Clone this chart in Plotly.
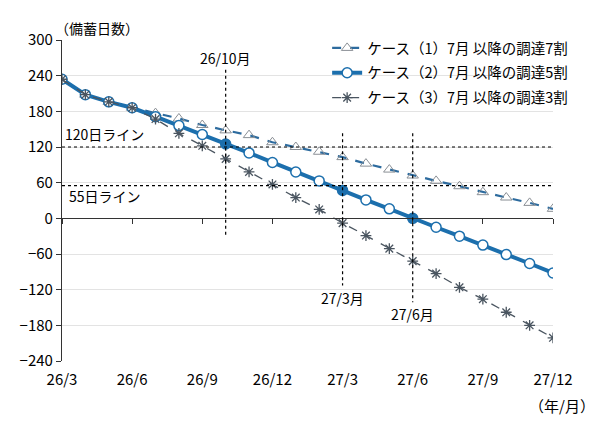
import plotly.graph_objects as go

months = ["26/3", "26/4", "26/5", "26/6", "26/7", "26/8", "26/9", "26/10", "26/11", "26/12",
          "27/1", "27/2", "27/3", "27/4", "27/5", "27/6", "27/7", "27/8", "27/9", "27/10", "27/11", "27/12"]
case1 = [234, 208, 196, 186, 177, 168, 157, 148, 140, 128, 120, 112, 103, 92, 82, 72, 63, 54, 44, 35, 26, 16]
case2 = [234, 208, 196, 186, 171, 156, 141, 125, 110, 94, 78, 63, 47, 31, 16, 0, -15, -30, -45, -61, -76, -92]
case3 = [234, 208, 196, 186, 167, 143, 122, 100, 78, 57, 35, 15, -8, -29, -51, -72, -93, -116, -136, -158, -180, -201]
names = ["ケース（1）7月 以降の調達7割", "ケース（2）7月 以降の調達5割", "ケース（3）7月 以降の調達3割"]
tick_months = ["26/3", "26/6", "26/9", "26/12", "27/3", "27/6", "27/9", "27/12"]
y_ticks = [300, 240, 180, 120, 60, 0, -60, -120, -180, -240]
key_months = ["26/10", "27/3", "27/6"]   # filled markers on case 2
ref_lines = [120, 55]
ref_labels = ["120日ライン", "55日ライン"]

JP = "Noto Sans CJK JP"
blue = "#1c6fad"

fig = go.Figure()
fig.add_trace(go.Scatter(x=months, y=case1, name=names[0], mode="lines+markers", legendgroup="c1",
                         line=dict(color="#2d6b9e", width=2.2, dash="dash"),
                         marker=dict(symbol="triangle-up-open", size=10, color="#8a8f95", line=dict(width=1))))
fig.add_trace(go.Scatter(x=months, y=case2, name=names[1], mode="lines+markers", legendgroup="c2",
                         line=dict(color=blue, width=4),
                         marker=dict(symbol="circle", size=10,
                                     color=[blue if m in key_months else "white" for m in months],
                                     line=dict(color=blue, width=1.5))))
fig.add_trace(go.Scatter(x=months, y=case3, name=names[2], mode="lines+markers", legendgroup="c3",
                         line=dict(color="#4a5560", width=1.3, dash="dash"),
                         marker=dict(symbol="asterisk-open", size=9, line=dict(color="#5683ad", width=1.3))))
# dummy trace on the tick axis sitting on y=0
fig.add_trace(go.Scatter(x=months, y=[None] * len(months), xaxis="x2", showlegend=False, hoverinfo="skip"))

for v in ref_lines:
    fig.add_shape(type="line", xref="x", yref="y", x0=months[0], x1=months[-1], y0=v, y1=v,
                  line=dict(color="black", width=1.2, dash="dot"))
fig.add_annotation(x=0.05, y=120, xref="x", yref="y", text=ref_labels[0], showarrow=False,
                   xanchor="left", yanchor="bottom", yshift=1, font=dict(size=14, family=JP, color="black"))
fig.add_annotation(x=0.2, y=55, xref="x", yref="y", text=ref_labels[1], showarrow=False,
                   xanchor="left", yanchor="top", yshift=2, font=dict(size=14, family=JP, color="black"))

# vertical markers (month, top, bottom, label position)
vlines = [("26/10", 250, -32, 250, "bottom"), ("27/3", 143, -113, -113, "top"), ("27/6", 143, -141, -141, "top")]
for m, y0, y1, ly, anch in vlines:
    fig.add_shape(type="line", xref="x", yref="y", x0=m, x1=m, y0=y0, y1=y1,
                  line=dict(color="black", width=1.2, dash="dot"))
    fig.add_annotation(x=m, y=ly, xref="x", yref="y", text=m + "月", showarrow=False,
                       yanchor=anch, font=dict(size=14, family=JP, color="black"))

fig.add_annotation(x=0, y=1, xref="paper", yref="paper", text="（備蓄日数）", showarrow=False,
                   xanchor="left", yanchor="middle", xshift=-9, yshift=12,
                   font=dict(size=14, family=JP, color="black"))
fig.add_annotation(x=1, y=0, xref="paper", yref="paper", text="（年/月）", showarrow=False,
                   xanchor="right", yanchor="middle", xshift=44, yshift=-44,
                   font=dict(size=15, family=JP, color="black"))

fig.update_layout(
    width=600, height=423,
    margin=dict(l=54, r=55, t=32, b=70),
    paper_bgcolor="white", plot_bgcolor="white",
    font=dict(family=JP, size=15, color="black"),
    showlegend=True,
    legend=dict(x=0.54, y=1.025, xanchor="left", yanchor="top", bgcolor="rgba(0,0,0,0)",
                font=dict(size=14.5, family=JP), tracegroupgap=3, itemwidth=30),
    xaxis=dict(type="category", categoryorder="array", categoryarray=months, range=[0, 21],
               tickvals=tick_months, ticktext=tick_months, showgrid=False, showline=False,
               ticks="", ticklabelstandoff=8, tickfont=dict(size=15, family=JP), zeroline=False),
    xaxis2=dict(type="category", categoryorder="array", categoryarray=months, range=[0, 21],
                overlaying="x", anchor="free", position=240 / 540, side="bottom",
                tickvals=tick_months, showticklabels=False, ticks="outside", ticklen=5,
                tickcolor="#333", showline=True, linecolor="#333", linewidth=1.2, showgrid=False),
    yaxis=dict(range=[-240, 300], tickvals=y_ticks, showgrid=True, gridcolor="#e3e3e3",
               showline=True, linecolor="#333", linewidth=1.2, ticks="outside", ticklen=5,
               tickcolor="#333", zeroline=False, tickfont=dict(size=15, family=JP)),
)

fig.write_html("out.html")
